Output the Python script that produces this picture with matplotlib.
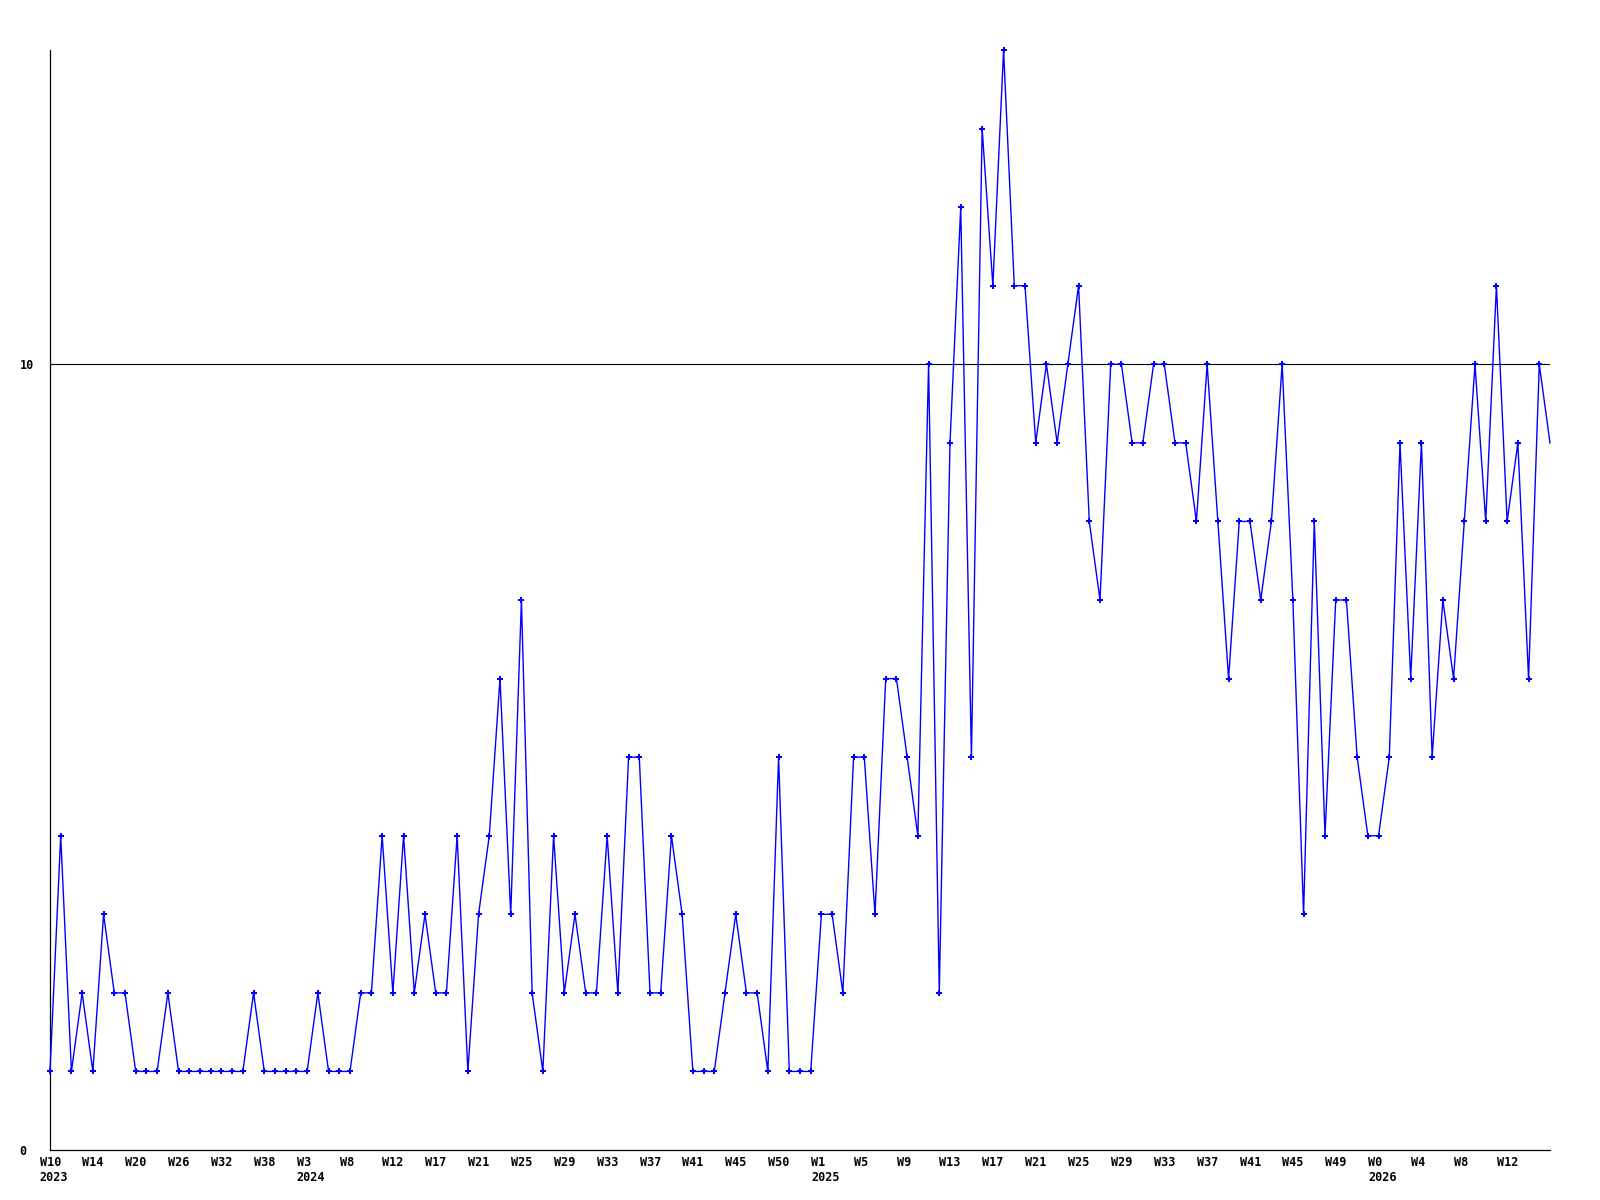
import matplotlib
matplotlib.use("Agg")
import matplotlib.pyplot as plt
from matplotlib.transforms import ScaledTranslation

# weekly values (one per week, index 0..140)
values = [1, 4, 1, 2, 1, 3, 2, 2, 1, 1,
          1, 2, 1, 1, 1, 1, 1, 1, 1, 2,
          1, 1, 1, 1, 1, 2, 1, 1, 1, 2,
          2, 4, 2, 4, 2, 3, 2, 2, 4, 1,
          3, 4, 6, 3, 7, 2, 1, 4, 2, 3,
          2, 2, 4, 2, 5, 5, 2, 2, 4, 3,
          1, 1, 1, 2, 3, 2, 2, 1, 5, 1,
          1, 1, 3, 3, 2, 5, 5, 3, 6, 6,
          5, 4, 10, 2, 9, 12, 5, 13, 11, 14,
          11, 11, 9, 10, 9, 10, 11, 8, 7, 10,
          10, 9, 9, 10, 10, 9, 9, 8, 10, 8,
          6, 8, 8, 7, 8, 10, 7, 3, 8, 4,
          7, 7, 5, 4, 4, 5, 9, 6, 9, 5,
          7, 6, 8, 10, 8, 11, 8, 9, 6, 10,
          9]

# x tick labels, one every 4 weeks
xtick_labels = ["W10\n2023", "W14", "W20", "W26", "W32", "W38", "W3\n2024", "W8",
                "W12", "W17", "W21", "W25", "W29", "W33", "W37", "W41", "W45",
                "W50", "W1\n2025", "W5", "W9", "W13", "W17", "W21", "W25", "W29",
                "W33", "W37", "W41", "W45", "W49", "W0\n2026", "W4", "W8", "W12"]
ytick_values = [0, 10]
ytick_labels = ["0", "10"]
reference_level = 10

x = list(range(len(values)))

fig = plt.figure(figsize=(16, 12), dpi=100)
ax = fig.add_axes([50 / 1600, 50 / 1200, 1500 / 1600, 1100 / 1200])

ax.axhline(reference_level, color="black", linewidth=0.8, zorder=1)
ax.plot(x, values, color="#0000ff", linewidth=1.0, marker="P", markersize=3.8,
        markeredgewidth=0, markevery=list(range(len(values) - 1)),
        clip_on=False, zorder=3)

ax.set_xlim(0, len(values) - 1)
ax.set_ylim(0, 14)

for side in ("top", "right"):
    ax.spines[side].set_visible(False)
for side in ("left", "bottom"):
    ax.spines[side].set_linewidth(0.9)
    ax.spines[side].set_color("black")

font = dict(family="DejaVu Sans Mono", weight="bold", size=8.5)

ax.set_xticks(list(range(0, len(values), 4))[:len(xtick_labels)])
ax.set_xticklabels(xtick_labels, ha="left", va="top", linespacing=1.2, **font)
ax.tick_params(axis="x", length=0, pad=4)
offset = ScaledTranslation(-10.5 / 100, 0, fig.dpi_scale_trans)
for lab in ax.get_xticklabels():
    lab.set_transform(lab.get_transform() + offset)

ax.set_yticks(ytick_values)
ax.set_yticklabels(ytick_labels, ha="left", **font)
ax.tick_params(axis="y", length=0, pad=22)

fig.savefig("out.png", dpi=100, facecolor="white")
